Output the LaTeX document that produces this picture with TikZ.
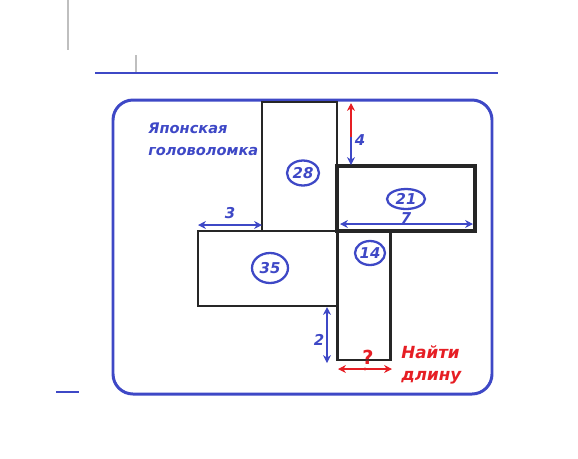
\documentclass[tikz,border=0pt]{standalone}
\usepackage{fontspec}
\setmainfont{DejaVu Sans}[ItalicFont={DejaVu Sans Oblique},BoldItalicFont={DejaVu Sans Bold Oblique}]
\usepackage{xcolor}
\usepackage{tikz}
\usetikzlibrary{arrows.meta,shapes.geometric}
\definecolor{pblue}{RGB}{62,72,198}
\definecolor{pred}{RGB}{230,30,36}

\begin{document}
\begin{tikzpicture}[x=0.02cm,y=-0.02cm,
  piece/.style={rectangle,draw=black!85,line width=1.2pt,inner sep=0pt,outer sep=0pt},
  area/.style={ellipse,draw=pblue,line width=1.3pt,text=pblue,inner sep=0pt,
    font=\bfseries\itshape\fontsize{8.5}{10}\selectfont},
  dim/.style={pblue,line width=0.6pt,{Stealth[length=4.5pt,width=4.5pt]}-{Stealth[length=4.5pt,width=4.5pt]}},
  num/.style={text=pblue,font=\bfseries\itshape\fontsize{8.5}{10}\selectfont}]
\useasboundingbox (0,0) rectangle (578,458);
\draw[black!25,line width=1pt] (68,0) -- (68,50) (136,55) -- (136,72);
\draw[pblue,line width=1.2pt] (95,73) -- (498,73);
\draw[pblue,line width=0.8pt] (56,392) -- (79,392);
\draw[pblue,line width=1.7pt,rounded corners=0.4cm] (113,100) rectangle (492,394);

\path (299.5,166.5) node(p28) [piece,minimum width=1.5cm,minimum height=2.58cm] {}
  (267.5,268.5) node(p35) [piece,minimum width=2.78cm,minimum height=1.5cm] {}
  (364,295.5) node(p14) [piece,minimum width=1.06cm,minimum height=2.57cm] {}
  (406,198.5) node(p21) [piece,line width=2.3pt,minimum width=2.76cm,minimum height=1.3cm] {};

\path (303,173) node(c28) [area,minimum width=0.64cm,minimum height=0.5cm] {28}
  (406,199) node(c21) [area,minimum width=0.76cm,minimum height=0.4cm] {21}
  (270,268) node(c35) [area,minimum width=0.72cm,minimum height=0.6cm] {35}
  (370,253) node(c14) [area,minimum width=0.6cm,minimum height=0.48cm] {14};

\node(title) [anchor=north west,inner sep=0pt,align=left,text=pblue,
  font=\bfseries\itshape\fontsize{8.3}{12.5}\selectfont] at (148,123) {Японская\\головоломка};
\node(task) [anchor=north west,inner sep=0pt,align=left,text=pred,
  font=\bfseries\itshape\fontsize{9.5}{12.5}\selectfont] at (401,345) {Найти\\длину};

\coordinate (a3) at (198,225);
\coordinate (b3) at (262,225);
\coordinate (a7) at (340,224);
\coordinate (b7) at (473,224);
\coordinate (t4) at (351,103);
\coordinate (m4) at (351,137);
\coordinate (b4) at (351,165);
\coordinate (t2) at (327,307);
\coordinate (b2) at (327,363);
\coordinate (aq) at (338,369);
\coordinate (bq) at (392,369);
\coordinate (mq) at (365,369);

\draw[dim] (a3) -- (b3) node(n3) [num,midway,above=0pt] {3};
\draw[dim] (a7) -- (b7);
\node(n7) [num] at (406,218) {7};
\draw[pred,line width=0.6pt,-{Stealth[length=4.5pt,width=4.5pt]}] (m4) -- (t4);
\draw[pblue,line width=0.6pt,-{Stealth[length=4.5pt,width=4.5pt]}] (m4) -- (b4);
\node(n4) [num] at (360,140) {4};
\draw[dim] (t2) -- (b2);
\node(n2) [num] at (319,340) {2};
\draw[dim,pred] (aq) -- (bq);
\fill[pred] (mq) circle (1.6);
\node(q) [text=pred,font=\bfseries\fontsize{11}{12}\selectfont] at (368,357) {?};
\end{tikzpicture}
\end{document}
